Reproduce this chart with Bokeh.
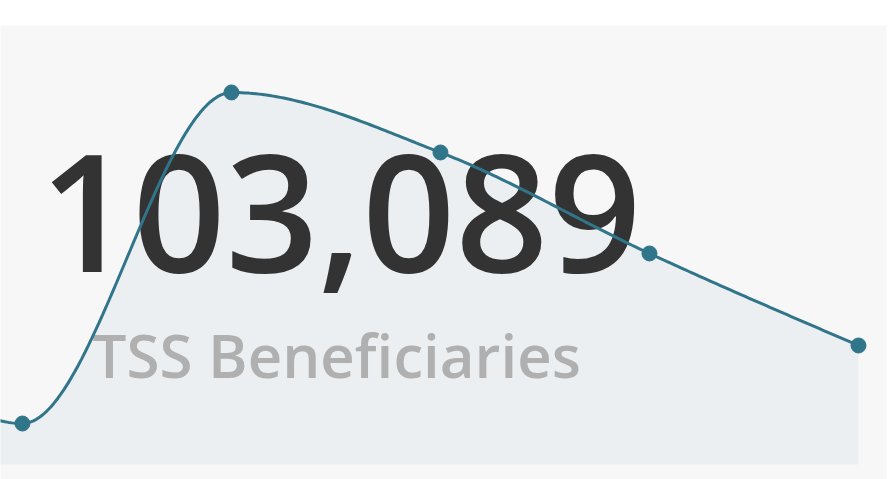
import numpy as np
from bokeh.plotting import figure
from bokeh.models import Range1d, Label, GlobalInlineStyleSheet
from bokeh.embed import file_html
from bokeh.resources import INLINE

# ---- data ----
periods = [-1, 0, 1, 2, 3, 4]
beneficiaries = [185000, 35500, 322300, 270300, 182800, 103089]
headline = "103,089"
caption = "TSS Beneficiaries"

LINE = "#31758a"
AREA = "#ebeff1"
BG = "#f7f7f7"
FONT = "'Open Sans SemiBold', 'Open Sans'"


def monotone_x(xs, ys, n=60):
    xs = np.asarray(xs, float)
    ys = np.asarray(ys, float)
    h = np.diff(xs)
    s = np.diff(ys) / h
    m = len(xs)
    t = np.zeros(m)
    for i in range(1, m - 1):
        s0, s1 = s[i - 1], s[i]
        p = (s0 * h[i] + s1 * h[i - 1]) / (h[i - 1] + h[i])
        t[i] = (np.sign(s0) + np.sign(s1)) * min(abs(s0), abs(s1), 0.5 * abs(p)) or 0.0
    t[0] = (3 * s[0] - t[1]) / 2
    t[-1] = (3 * s[-1] - t[-2]) / 2
    ox, oy = [], []
    for i in range(m - 1):
        u = np.linspace(0, 1, n, endpoint=(i == m - 2))
        p0, p3 = ys[i], ys[i + 1]
        p1 = p0 + h[i] / 3 * t[i]
        p2 = p3 - h[i] / 3 * t[i + 1]
        yy = (1 - u) ** 3 * p0 + 3 * (1 - u) ** 2 * u * p1 + 3 * (1 - u) * u ** 2 * p2 + u ** 3 * p3
        ox.extend(xs[i] + h[i] * u)
        oy.extend(yy)
    return np.array(ox), np.array(oy)


cx, cy = monotone_x(periods, beneficiaries)

p = figure(width=891, height=479, output_backend="svg", toolbar_location=None,
           x_range=Range1d(-0.105, 4.134), y_range=Range1d(-13000, 380300),
           min_border_left=0, min_border_right=5, min_border_top=25, min_border_bottom=0)
p.stylesheets = [GlobalInlineStyleSheet(css="body{margin:0;overflow:hidden}")]
p.background_fill_color = BG
p.border_fill_color = "white"
p.outline_line_color = None
p.axis.visible = False
p.grid.visible = False

p.varea(x=cx, y1=np.zeros_like(cy), y2=cy, fill_color=AREA, level="image")

big = Label(x=39, y=266, x_units="screen", y_units="screen", text=headline,
            text_font=FONT, text_font_size="163px",
            text_color="#333333", text_baseline="alphabetic", level="underlay")
sub = Label(x=92, y=125, x_units="screen", y_units="screen", text=caption,
            text_font=FONT, text_font_size="60px",
            text_color="#b0b0b0", text_baseline="alphabetic", level="underlay")
p.add_layout(big)
p.add_layout(sub)

p.line(cx, cy, line_color=LINE, line_width=3)
p.scatter(periods, beneficiaries, size=15, fill_color=LINE, line_color=LINE)

open("out.html", "w").write(file_html(p, INLINE))
